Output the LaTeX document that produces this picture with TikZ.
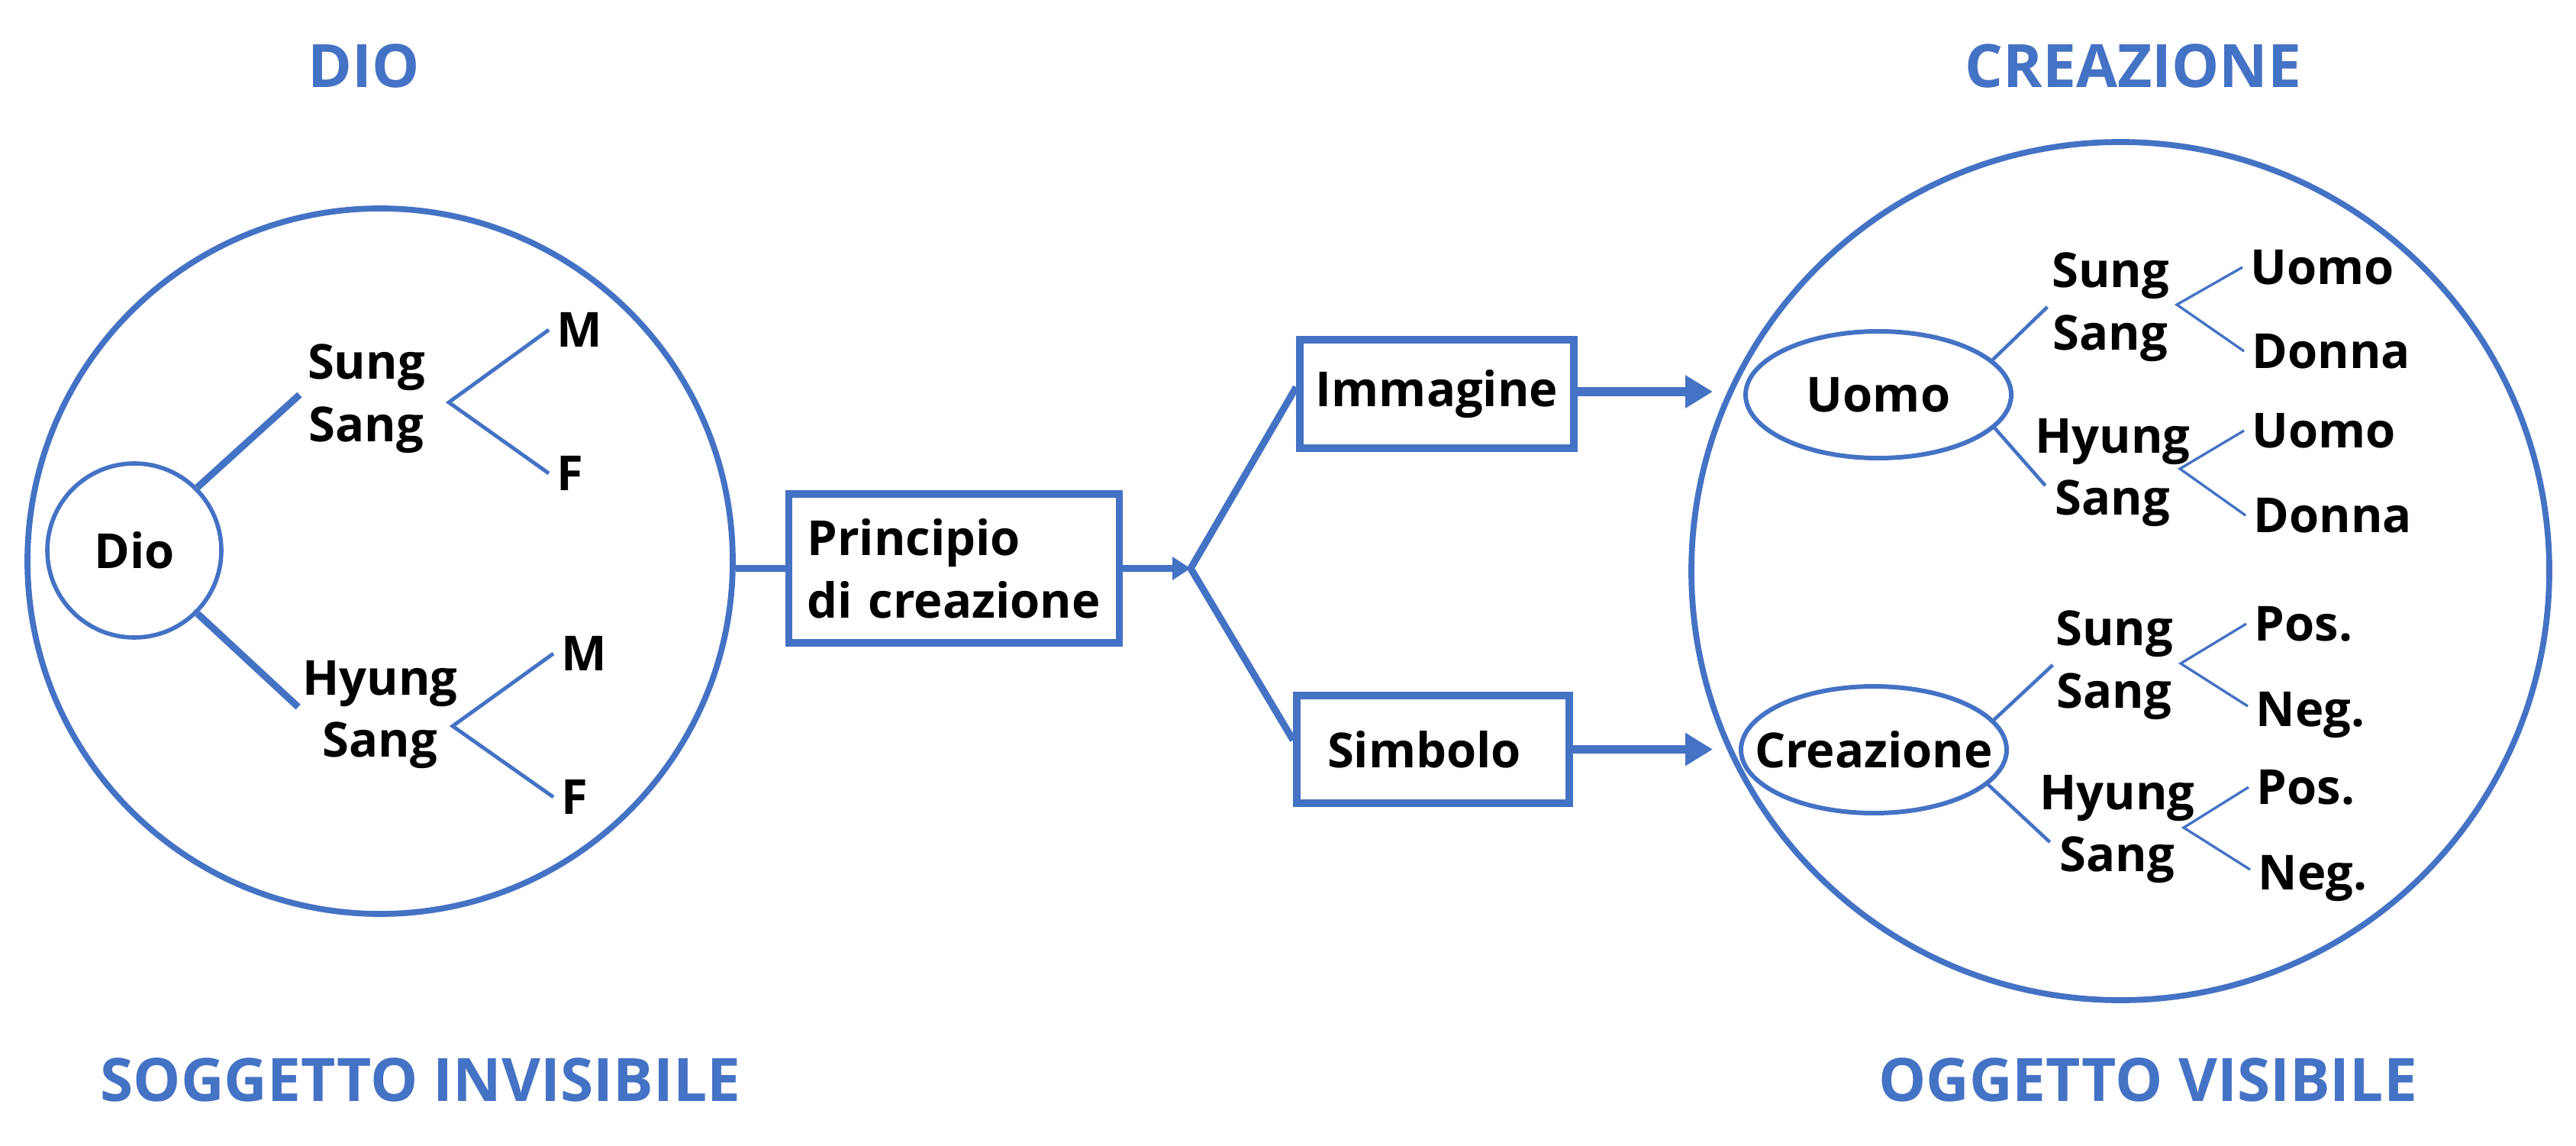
\documentclass[tikz,border=0pt]{standalone}
\usepackage{fontspec}
\setmainfont{Open Sans}
\usetikzlibrary{arrows.meta,shapes.geometric}
\definecolor{obl}{HTML}{4472C4}
\begin{document}
\begin{tikzpicture}[
  txt/.style={font=\fontsize{18}{23.3}\selectfont\bfseries, inner sep=0.1cm, align=center},
  leaf/.style={txt, anchor=west},
  title/.style={font=\fontsize{22.3}{26}\selectfont\bfseries, text=obl, inner sep=0},
  bigc/.style={draw=obl, line width=2.2pt, circle, inner sep=0},
  box/.style={txt, draw=obl, line width=2.7pt, rectangle},
  tline/.style={draw=obl, line width=2.6pt},
  mline/.style={draw=obl, line width=2.6pt},
  fork/.style={draw=obl, line width=1.4pt},
  rline/.style={draw=obl, line width=1.3pt},
  rfork/.style={draw=obl, line width=0.95pt},
  ell/.style={draw=obl, line width=1.7pt, ellipse, minimum width=3.48cm, minimum height=1.66cm, inner sep=0},
  arrm/.style={draw=obl, line width=2.8pt, -{Triangle[length=0.24cm, width=0.29cm]}},
  arrr/.style={draw=obl, line width=3.3pt, -{Triangle[length=0.36cm, width=0.41cm]}},
]
\useasboundingbox (0,0) rectangle (33.75,15);

% titles
\node[title] (tDio) at (4.77,14.14) {DIO};
\node[title] (tCre) at (27.95,14.14) {CREAZIONE};
\node[title] (tSog) at (5.51,0.86) {SOGGETTO INVISIBILE};
\node[title] (tOgg) at (28.14,0.86) {OGGETTO VISIBILE};

% left circle
\node[bigc, minimum size=9.24cm] (bigL) at (4.98,7.65) {};
\node[txt, draw=obl, line width=1.6pt, circle, minimum size=2.28cm, inner sep=0] (dio) at (1.76,7.79) {Dio};
\node[txt] (ssL) at (4.80,9.78) {Sung\\Sang};
\node[txt] (hsL) at (4.98,5.64) {Hyung\\Sang};
\draw[tline] (dio.45) -- ([yshift=0.05cm]ssL.west);
\draw[tline] (dio.-45) -- ([xshift=0.05cm,yshift=0.1cm]hsL.west);

\coordinate (lv1) at (5.88,9.73);
\node[leaf] (m1) at (7.19,10.68) {M};
\node[leaf] (f1) at (7.19,8.80) {F};
\draw[fork] (m1.west) -- (lv1) -- (f1.west);

\coordinate (lv2) at (5.93,5.49);
\node[leaf] (m2) at (7.25,6.44) {M};
\node[leaf] (f2) at (7.25,4.56) {F};
\draw[fork] (m2.west) -- (lv2) -- (f2.west);

% principio
\node[box, align=left, text width=3.85cm, inner xsep=0.24cm, minimum height=1.95cm] (pc) at (12.50,7.555) {Principio\\di creazione};
\draw[mline] (bigL.east |- pc.west) -- (pc.west);
\coordinate (fv) at (15.60,7.555);
\draw[arrm] (pc.east) -- (fv);

\node[box, minimum width=3.59cm, minimum height=1.42cm, inner sep=0] (im) at (18.825,9.84) {Immagine};
\node[box, minimum height=1.41cm, align=left, text width=2.77cm, inner xsep=0.4cm, inner ysep=0] (sb) at (18.775,5.185) {Simbolo};
\draw[mline] ([yshift=0.09cm]im.west) -- (fv) -- ([yshift=0.12cm]sb.west);

% right circle
\node[bigc, minimum size=11.24cm] (bigR) at (27.78,7.52) {};
\coordinate (ia) at ([yshift=0.03cm]im.east);
\coordinate (ta) at (22.44,9.87);
\coordinate (tb) at (22.44,5.16);
\draw[arrr] (ia) -- (ta|-ia);
\draw[arrr] (sb.east) -- (tb|-sb.east);

\node[ell, label={[txt]center:Uomo}] (uE) at (24.61,9.83) {};
\node[ell, label={[txt]center:Creazione}] (cE) at (24.55,5.18) {};

% upper group
\node[txt] (ss1) at (27.65,10.98) {Sung\\Sang};
\draw[rline] (uE.17) -- ([xshift=0.05cm]ss1.west);
\coordinate (rv1) at (28.52,11.01);
\node[leaf] (u1) at (29.38,11.50) {Uomo};
\node[leaf] (d1) at (29.40,10.40) {Donna};
\draw[rfork] (u1.west) -- (rv1) -- (d1.west);

\node[txt] (hs1) at (27.68,8.81) {Hyung\\Sang};
\draw[rline] (uE.-16) -- ([xshift=0.24cm,yshift=-0.17cm]hs1.west);
\coordinate (rv2) at (28.56,8.86);
\node[leaf] (u2) at (29.40,9.36) {Uomo};
\node[leaf] (d2) at (29.42,8.25) {Donna};
\draw[rfork] (u2.west) -- (rv2) -- (d2.west);

% lower group
\node[txt] (ss2) at (27.70,6.29) {Sung\\Sang};
\draw[rline] (cE.14) -- ([xshift=0.07cm]ss2.west);
\coordinate (rv3) at (28.57,6.31);
\node[leaf] (p1) at (29.43,6.83) {Pos.};
\node[leaf] (n1) at (29.45,5.63) {Neg.};
\draw[rfork] (p1.west) -- (rv3) -- ([yshift=0.12cm]n1.west);

\node[txt] (hs2) at (27.74,4.14) {Hyung\\Sang};
\draw[rline] (cE.-17) -- ([xshift=0.24cm,yshift=-0.17cm]hs2.west);
\coordinate (rv4) at (28.61,4.16);
\node[leaf] (p2) at (29.46,4.69) {Pos.};
\node[leaf] (n2) at (29.48,3.49) {Neg.};
\draw[rfork] (p2.west) -- (rv4) -- ([yshift=0.12cm]n2.west);
\end{tikzpicture}
\end{document}
